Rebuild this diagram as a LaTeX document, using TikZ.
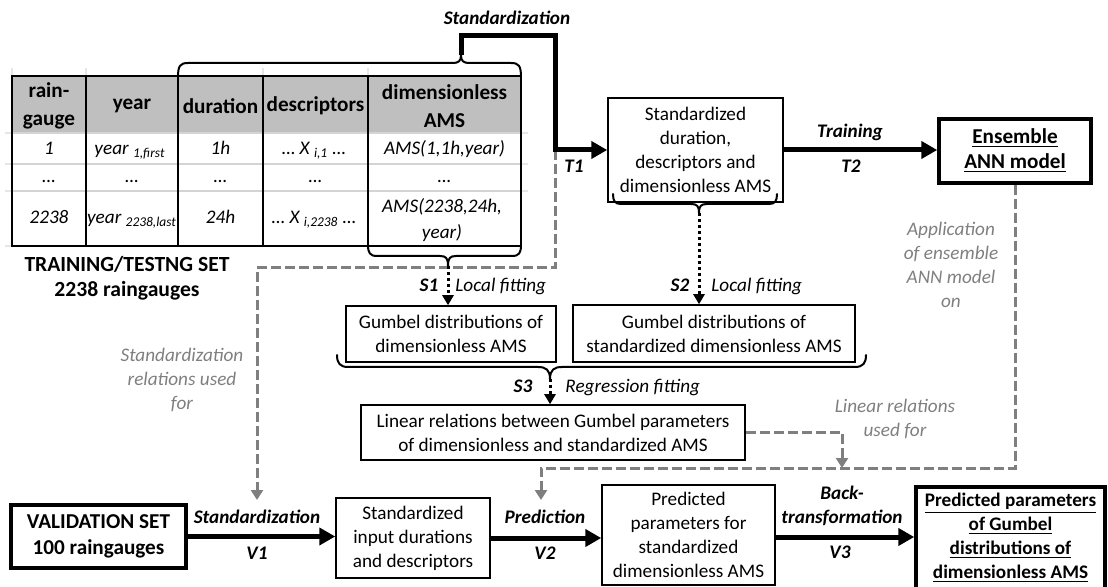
\documentclass[tikz,border=0pt]{standalone}
\usepackage{fontspec}
\setmainfont{Carlito}
\usetikzlibrary{arrows.meta}
\definecolor{hdrgray}{HTML}{BFBFBF}
\definecolor{dgray}{HTML}{7F7F7F}
\definecolor{lgrid}{HTML}{D4D4D4}
\definecolor{fgrid}{HTML}{E6E6E6}
\newcommand{\bodyfs}{\fontsize{9.6}{12}\selectfont}
\newcommand{\headfs}{\fontsize{10.6}{14}\selectfont}
\begin{document}
\begin{tikzpicture}[x=0.5pt,y=-0.5pt,
  box/.style={draw,line width=0.75pt,align=center,inner sep=0pt,font=\bodyfs},
  tbox/.style={box,line width=1.75pt},
  bigarrow/.style={line width=2.5pt,-{Triangle[length=8pt,width=8.5pt]}},
  dotarrow/.style={line width=1.5pt,dash pattern=on 1.5pt off 1.5pt,-{Triangle[length=5pt,width=5.5pt]}},
  grayarrow/.style={dgray,line width=1.5pt,dash pattern=on 5pt off 2pt,-{Triangle[length=5pt,width=6pt]}},
  brc/.style={line width=1pt,line join=round,line cap=round},
  lbl/.style={font=\bodyfs\bfseries\itshape,inner sep=0pt,text height=6.5pt,text depth=1.5pt},
  ilbl/.style={font=\bodyfs\itshape,inner sep=0pt,text height=6.5pt,text depth=1.5pt},
  glbl/.style={font=\bodyfs\itshape,text=dgray,align=center,inner sep=0pt},
  hcell/.style={font=\headfs\bfseries,align=center,inner sep=0pt},
  bcell/.style={font=\bodyfs\itshape,align=center,inner sep=0pt,text height=6.5pt,text depth=1.5pt}
]
\useasboundingbox (0,0) rectangle (1108,587);

% ---------- table ----------
\fill[hdrgray] (12,76) rectangle (521,133);
\draw[fgrid,line width=0.6pt] (12,68) -- (12,76) (86,68) -- (86,76) (263,68) -- (263,76) (368,68) -- (368,76)
  (5,133) -- (12,133) (5,164) -- (12,164) (5,191) -- (12,191) (5,246) -- (12,246)
  (521,133) -- (528,133) (521,164) -- (528,164) (521,191) -- (528,191);
\draw[lgrid,line width=0.6pt] (12,133) -- (521,133) (12,164) -- (521,164) (12,191) -- (521,191);
\draw[line width=0.9pt] (12,76) rectangle (521,246);
\draw[line width=0.9pt] (86,76) -- (86,246) (178,76) -- (178,246) (263,76) -- (263,246) (368,76) -- (368,246);

\node[hcell,font=\fontsize{10.6}{14}\selectfont\bfseries] (h1) at (49,106) {rain-\\gauge};
\node[hcell] (h2) at (132,106) {year};
\node[hcell] (h3) at (220.5,106) {duration};
\node[hcell] (h4) at (315.5,106) {descriptors};
\node[hcell] (h5) at (444.5,106) {dimensionless\\AMS};

\node[bcell] (r11) at (49,150) {1};
\node[bcell] (r12) at (130,150) {year \textsubscript{1,first}};
\node[bcell] (r13) at (220.5,150) {1h};
\node[bcell] (r14) at (314,150) {… X \textsubscript{i,1} …};
\node[bcell] (r15) at (444.5,150) {AMS(1,1h,year)};

\node[bcell] (r21) at (49,177.5) {…};
\node[bcell] (r22) at (132,177.5) {…};
\node[bcell] (r23) at (220.5,177.5) {…};
\node[bcell] (r24) at (315.5,177.5) {…};
\node[bcell] (r25) at (444.5,177.5) {…};

\node[bcell] (r31) at (49,219) {2238};
\node[bcell] (r32) at (132,219) {year \textsubscript{2238,last}};
\node[bcell] (r33) at (220.5,219) {24h};
\node[bcell] (r34) at (314,219) {… X \textsubscript{i,2238} …};
\node[bcell,text height=,text depth=,font=\fontsize{9.6}{13}\selectfont\itshape] (r35) at (442,220) {AMS(2238,24h,\\year)};

\node[font=\fontsize{10.8}{12.5}\selectfont\bfseries,align=center,inner sep=0pt] (trainset) at (127,278) {TRAINING/TESTNG SET\\2238 raingauges};

% ---------- braces ----------
\draw[brc] (178,77) .. controls (178,66) and (180,63) .. (188,63) -- (452,63)
  .. controls (459,63) and (461,61) .. (461,55) .. controls (461,61) and (463,63) .. (470,63)
  -- (511,63) .. controls (519,63) and (521,66) .. (521,77);
\coordinate (tbT) at (461,55);
\draw[brc] (368,245) .. controls (368,253) and (370,256) .. (377,256) -- (440,256)
  .. controls (446,256) and (448,258) .. (448,266) .. controls (448,258) and (450,256) .. (456,256)
  -- (512,256) .. controls (519,256) and (521,253) .. (521,245);
\coordinate (tbS1) at (448,266);

% ---------- boxes ----------
\node[box,minimum width=87.5pt,minimum height=52pt] (stdbox) at (695.5,150)
  {Standardized\\duration,\\descriptors and\\dimensionless AMS};
\node[tbox,font=\fontsize{10.6}{12.5}\selectfont\bfseries,minimum width=76pt,minimum height=32pt] (ens) at (1015,151)
  {\underline{Ensemble}\\\underline{ANN model}};
\node[box,minimum width=105pt,minimum height=28pt] (gum1) at (451,334)
  {Gumbel distributions of\\dimensionless AMS};
\node[box,minimum width=141pt,minimum height=28.5pt] (gum2) at (714,333.5)
  {Gumbel distributions of\\standardized dimensionless AMS};
\node[box,minimum width=192pt,minimum height=27.5pt] (lin) at (553,432.5)
  {Linear relations between Gumbel parameters\\of dimensionless and standardized AMS};
\node[tbox,font=\fontsize{10.6}{13}\selectfont\bfseries,minimum width=87.5pt,minimum height=31.5pt] (val) at (98.5,536.5)
  {VALIDATION SET\\100 raingauges};
\node[box,minimum width=77pt,minimum height=40pt] (inp) at (413,538)
  {Standardized\\input durations\\and descriptors};
\node[box,minimum width=86.5pt,minimum height=50pt] (pred) at (688.5,535)
  {Predicted\\parameters for\\standardized\\dimensionless AMS};
\node[tbox,font=\fontsize{9.6}{12}\selectfont\bfseries,minimum width=94.5pt,minimum height=51pt] (fin) at (1010.5,538)
  {\underline{Predicted parameters}\\\underline{of Gumbel}\\\underline{distributions of}\\\underline{dimensionless AMS}};

% braces under boxes
\draw[brc] (613,194) .. controls (613,201) and (615,204) .. (621,204) -- (691,204)
  .. controls (697,204) and (699,206) .. (699,213) .. controls (699,206) and (701,204) .. (707,204)
  -- (769,204) .. controls (775,204) and (777,201) .. (777,194);
\coordinate (tbS2) at (699,213);
\draw[brc] (337,355) .. controls (337,363) and (340,367) .. (348,367) -- (538,367)
  .. controls (546,367) and (550,370) .. (550,379) .. controls (550,370) and (554,367) .. (562,367)
  -- (855,367) .. controls (863,367) and (866,363) .. (866,355);
\coordinate (tbS3) at (550,379);

% ---------- gray dashed relations ----------
\coordinate (gA) at (555,150);
\coordinate (gB) at (555,268);
\coordinate (gC) at (257,268);
\coordinate (gD) at (257,500);
\draw[grayarrow] (gA) -- (gB) -- (gC) -- (gD);
\coordinate (gE) at (1015,468);
\coordinate (gF) at (541,468);
\coordinate (gG) at (541,500);
\draw[grayarrow] (ens.south) -- (gE) -- (gF) -- (gG);
\coordinate (gH) at (842,468);
\draw[grayarrow] (lin.east) -| (gH);

% ---------- main black arrows ----------
\coordinate (ct) at (555,36);
\draw[bigarrow] (tbT) |- (ct) |- (stdbox.west);
\draw[bigarrow] (stdbox.east) -- (stdbox.east -| ens.west);
\draw[bigarrow] (val.east) -- (val.east -| inp.west);
\draw[bigarrow] (inp.east) -- (inp.east -| pred.west);
\draw[bigarrow] (pred.east |- 0,537) -- (fin.west |- 0,537);

% dotted fitting arrows
\draw[dotarrow] (tbS1) -- (tbS1 |- gum1.north);
\draw[dotarrow] (tbS2) -- (tbS2 |- gum2.north);
\draw[dotarrow] (tbS3) -- (tbS3 |- lin.north);

% ---------- labels ----------
\node[lbl] (stdtop) at (507,20) {Standardization};
\node[lbl] (t1) at (574,168) {T1};
\node[lbl] (train) at (850,133) {Training};
\node[lbl] (t2) at (851,168) {T2};
\node[glbl] (appl) at (951,265) {Application\\of ensemble\\ANN model\\on};
\node[lbl] (s1) at (429,287) {S1};
\node[ilbl,anchor=west] (lf1) at (455,287) {Local fitting};
\node[lbl] (s2) at (680,287) {S2};
\node[ilbl,anchor=west] (lf2) at (711,287) {Local fitting};
\node[lbl] (s3) at (523,388) {S3};
\node[ilbl,anchor=west] (rf) at (565,388) {Regression fitting};
\node[glbl] (linrel) at (895,418.5) {Linear relations\\used for};
\node[glbl] (strel) at (182,379.5) {Standardization\\relations used\\for};
\node[lbl] (vstd) at (257,518) {Standardization};
\node[lbl] (v1) at (257,554) {V1};
\node[lbl] (vpred) at (545,518) {Prediction};
\node[lbl] (v2) at (545,554) {V2};
\node[font=\bodyfs\bfseries\itshape,align=center,inner sep=0pt] (vback) at (842,506) {Back-\\transformation};
\node[lbl] (v3) at (840,553) {V3};
\end{tikzpicture}
\end{document}
